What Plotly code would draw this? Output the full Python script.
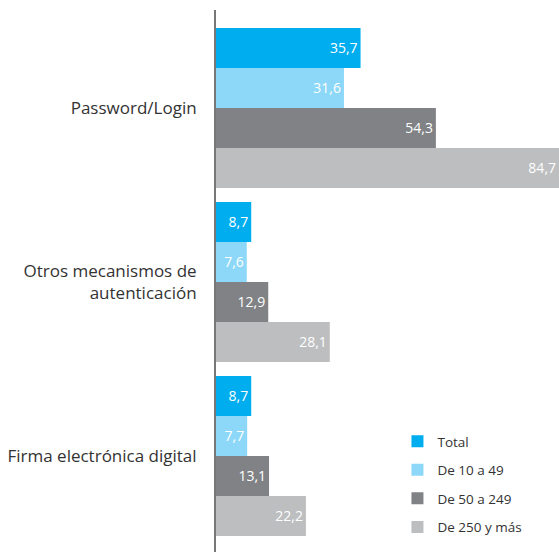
import plotly.graph_objects as go

categories = ["Password/Login", "Otros mecanismos de<br>autenticación", "Firma electrónica digital"]
series_names = ["Total", "De 10 a 49", "De 50 a 249", "De 250 y más"]
total = [35.7, 8.7, 8.7]
de10a49 = [31.6, 7.6, 7.7]
de50a249 = [54.3, 12.9, 13.1]
de250 = [84.7, 28.1, 22.2]
colors = ["#00AEEF", "#8DD8F8", "#808285", "#BCBEC0"]

fig = go.Figure()
for i, (name, vals) in enumerate(zip(series_names, [total, de10a49, de50a249, de250])):
    fig.add_trace(go.Bar(
        y=categories, x=vals, name=name, orientation="h",
        marker=dict(color=colors[i], line=dict(width=0)),
        texttemplate="%{x:.1f}", textposition="inside", insidetextanchor="end",
        textfont=dict(color="white", size=14), constraintext="none",
        legendgroup=name, cliponaxis=False,
    ))

fig.update_layout(
    width=559, height=552,
    margin=dict(l=216, r=0, t=10, b=0),
    barmode="group", bargap=0.08, bargroupgap=0,
    separators=", ",
    plot_bgcolor="white", paper_bgcolor="white",
    font=dict(family="Open Sans", color="#333333", size=14),
    uniformtext=dict(mode="show", minsize=12),
    showlegend=True,
    legend=dict(x=0.529, y=0.2325, xanchor="left", yanchor="top",
                font=dict(size=13.5, color="#333333"), tracegroupgap=8,
                bgcolor="rgba(0,0,0,0)"),
)
fig.update_xaxes(range=[0, 84.7], visible=False, showgrid=False)
fig.update_yaxes(type="category", range=[2.552, -0.563], showgrid=False,
                 showline=True, linecolor="#777777", linewidth=2,
                 ticks="", ticklabelstandoff=14, tickfont=dict(size=17, color="#333333"))

fig.write_html("out.html", config={"displayModeBar": False},
               post_script="document.body.style.margin='0';document.body.style.overflow='hidden';")
